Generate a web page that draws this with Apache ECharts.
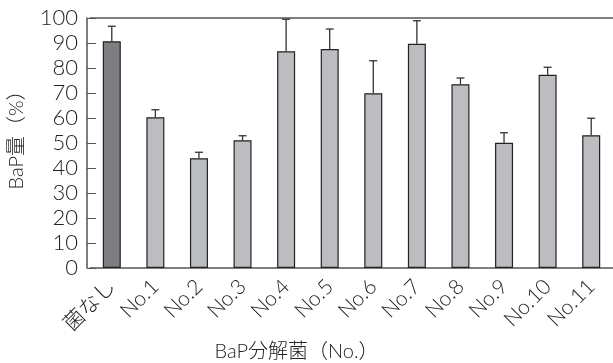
<!DOCTYPE html>
<html><head><meta charset="utf-8">
<script src="https://cdn.jsdelivr.net/npm/echarts@6/dist/echarts.min.js"></script>
<style>html,body{margin:0;padding:0;background:#fff}#c{width:613px;height:363px}</style>
</head><body><div id="c"></div>
<script>
const categories = ['菌なし','No.1','No.2','No.3','No.4','No.5','No.6','No.7','No.8','No.9','No.10','No.11'];
const values = [90.7, 60.3, 43.9, 51.1, 86.7, 87.6, 69.9, 89.7, 73.5, 50.1, 77.3, 53.1];
const errorTops = [96.7, 63.3, 46.3, 52.9, 99.5, 95.6, 82.9, 98.9, 76.0, 54.1, 80.3, 59.9];
const yTicks = [0,10,20,30,40,50,60,70,80,90,100];

const font = 'Lato,"Noto Sans CJK JP",sans-serif';
const chart = echarts.init(document.getElementById('c'));
chart.setOption({
  animation:false,
  grid:{left:90,right:0,top:18,bottom:95,containLabel:false,outerBoundsMode:'none'},
  xAxis:[{
    type:'category', data:categories,
    axisLine:{lineStyle:{color:'#555',width:1.5}},
    axisTick:{show:false},
    axisLabel:{rotate:45, fontSize:21, fontWeight:300, color:'#222', fontFamily:font, margin:15},
    name:'BaP分解菌（No.）', nameLocation:'middle', nameGap:68,
    nameTextStyle:{fontSize:20,fontWeight:300,color:'#222',fontFamily:font,padding:[0,110,0,0]}
  },{
    type:'category', data:categories, position:'top',
    axisLine:{show:true,lineStyle:{color:'#555',width:1.5}},
    axisTick:{show:false}, axisLabel:{show:false}
  }],
  yAxis:{
    type:'value', min:0, max:100, interval:10, offset:3,
    axisLine:{show:true,lineStyle:{color:'#555',width:1.5}},
    axisTick:{show:true,inside:true,length:9,lineStyle:{color:'#555'}},
    splitLine:{show:false},
    axisLabel:{fontSize:22,fontWeight:300,color:'#222',fontFamily:font,margin:9,
      formatter:v=>yTicks.includes(v)?String(v):''},
    name:'BaP量（%）', nameLocation:'middle', nameGap:60, nameRotate:90,
    nameTextStyle:{fontSize:20,fontWeight:300,color:'#222',fontFamily:font,padding:[0,0,0,16]}
  },
  series:[{
    type:'bar', data:values.map((v,i)=>({value:v,itemStyle:{color:i===0?'#7d7e82':'#bcbdc0'}})),
    barWidth:18,
    itemStyle:{borderColor:'#222',borderWidth:1.2}
  },{
    type:'custom',
    data:values.map((v,i)=>[i,v,errorTops[i]]),
    renderItem:(params,api)=>{
      const b=api.coord([api.value(0),api.value(1)]);
      const t=api.coord([api.value(0),api.value(2)]);
      const s={stroke:'#333',lineWidth:1.3};
      return {type:'group',children:[
        {type:'line',shape:{x1:b[0],y1:b[1],x2:t[0],y2:t[1]},style:s},
        {type:'line',shape:{x1:t[0]-4,y1:t[1],x2:t[0]+4,y2:t[1]},style:s}
      ]};
    },
    z:1
  }]
});
</script></body></html>
